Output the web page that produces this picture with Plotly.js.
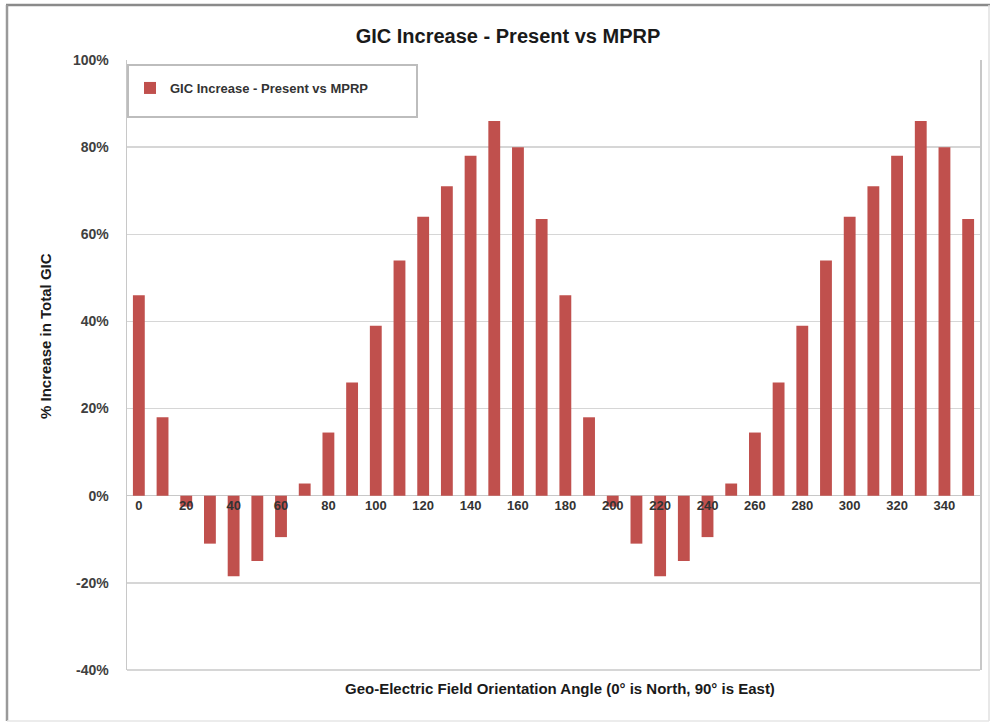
<!DOCTYPE html>
<html>
<head>
<meta charset="utf-8">
<script src="https://cdn.plot.ly/plotly-3.0.1.min.js"></script>
<style>html,body{margin:0;padding:0;background:#fff;}#chart{width:996px;height:726px;}</style>
</head>
<body>
<div id="chart"></div>
<script>
// Data
const angles = [0,10,20,30,40,50,60,70,80,90,100,110,120,130,140,150,160,170,
                180,190,200,210,220,230,240,250,260,270,280,290,300,310,320,330,340,350];
const gicIncrease = [46,18,-2.5,-11,-18.5,-15,-9.5,2.8,14.5,26,39,54,64,71,78,86,80,63.5,
                     46,18,-2.5,-11,-18.5,-15,-9.5,2.8,14.5,26,39,54,64,71,78,86,80,63.5];
const xTickVals = [0,20,40,60,80,100,120,140,160,180,200,220,240,260,280,300,320,340];
const xTickText = xTickVals.map(String);
const yTickVals = [-40,-20,0,20,40,60,80,100];
const yTickText = ['-40%','-20%','0%','20%','40%','60%','80%','100%'];
const seriesName = "GIC Increase - Present vs MPRP";

const L = 127, R = 980, T = 60, B = 670;   // plot area pixels
const W = 996, H = 726;
const px = x => (x - L) / (R - L);
const py = y => (B - y) / (B - T);

const trace = {
  type: 'bar',
  x: angles,
  y: gicIncrease,
  name: seriesName,
  marker: {color: '#C0504D', line: {width: 0}},
  showlegend: true
};

const layout = {
  width: W, height: H,
  margin: {l: L, r: W - R, t: T, b: H - B},
  paper_bgcolor: '#ffffff',
  plot_bgcolor: '#ffffff',
  bargap: 0.5,
  font: {family: 'Liberation Sans, Arial, sans-serif', color: '#333333'},
  title: {
    text: '<b>GIC Increase - Present vs MPRP</b>',
    font: {size: 20, color: '#1a1a1a'},
    x: 508 / W, xanchor: 'center',
    y: 1 - 36 / H, yanchor: 'middle', yref: 'container'
  },
  xaxis: {
    range: [-5, 355],
    tickvals: xTickVals,
    ticktext: xTickText,
    tickfont: {size: 13, color: '#333333', weight: 'bold'},
    anchor: 'free',
    position: 40 / 140,
    showgrid: false,
    zeroline: false,
    showline: false,
    ticks: '',
    fixedrange: true
  },
  yaxis: {
    range: [-40, 100],
    tickvals: yTickVals,
    ticktext: yTickText,
    tickfont: {size: 14, color: '#404040', weight: 'bold'},
    ticklabelstandoff: 14,
    showgrid: true,
    gridcolor: '#d6d6d6',
    gridwidth: 1.5,
    zeroline: true,
    zerolinecolor: '#c8c8c8',
    zerolinewidth: 1,
    showline: true,
    linecolor: '#c8c8c8',
    linewidth: 1.5,
    mirror: true,
    ticks: '',
    fixedrange: true
  },
  legend: {
    x: px(130), xanchor: 'left',
    y: py(73), yanchor: 'top',
    bgcolor: 'rgba(0,0,0,0)',
    borderwidth: 0,
    font: {size: 13, color: '#333333', weight: 'bold'},
    itemwidth: 30
  },
  shapes: [
    // legend box
    {type: 'rect', xref: 'paper', yref: 'paper', x0: px(128), x1: px(417), y0: py(117), y1: py(65),
     line: {color: '#bdbdbd', width: 2}, fillcolor: 'rgba(255,255,255,0)', layer: 'below'},
    // plot bottom border
    {type: 'line', xref: 'paper', yref: 'paper', x0: 0, x1: 1, y0: 0, y1: 0,
     line: {color: '#c8c8c8', width: 1.5}},
    // outer chart frame
    {type: 'line', xref: 'paper', yref: 'paper', x0: px(6), x1: px(990), y0: py(5), y1: py(5),
     line: {color: '#8a8a8a', width: 2.5}},
    {type: 'line', xref: 'paper', yref: 'paper', x0: px(7), x1: px(7), y0: py(5), y1: py(721),
     line: {color: '#9a9a9a', width: 2.5}},
    {type: 'line', xref: 'paper', yref: 'paper', x0: px(989), x1: px(989), y0: py(5), y1: py(721),
     line: {color: '#e0e0e0', width: 1.5}},
    {type: 'line', xref: 'paper', yref: 'paper', x0: px(7), x1: px(989), y0: py(721), y1: py(721),
     line: {color: '#e6e6e6', width: 1.5}}
  ],
  annotations: [
    {text: '<b>Geo-Electric Field Orientation Angle (0° is North, 90° is East)</b>',
     xref: 'paper', yref: 'paper', x: px(560), y: py(688), xanchor: 'center', yanchor: 'middle',
     showarrow: false, font: {size: 15, color: '#1a1a1a'}},
    {text: '<b>% Increase in Total GIC</b>',
     xref: 'paper', yref: 'paper', x: px(45), y: py(336), xanchor: 'center', yanchor: 'middle',
     textangle: -90, showarrow: false, font: {size: 15, color: '#1a1a1a'}}
  ]
};

Plotly.newPlot('chart', [trace], layout, {displayModeBar: false, staticPlot: true});
</script>
</body>
</html>
